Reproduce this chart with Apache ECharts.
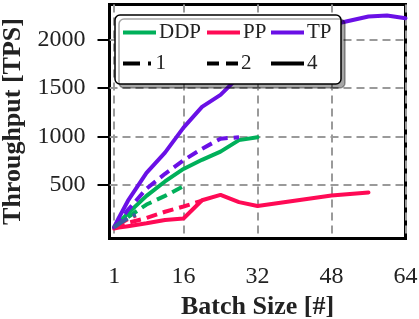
<!DOCTYPE html>
<html>
<head>
<meta charset="utf-8">
<script src="https://cdn.jsdelivr.net/npm/echarts@6/dist/echarts.min.js"></script>
<style>html,body{margin:0;padding:0;background:#fff;}#c{width:419px;height:319px;}</style>
</head>
<body>
<div id="c"></div>
<script>
// ---- data ----
const xTicks = [1, 16, 32, 48, 64];
const yTicks = [500, 1000, 1500, 2000];

const tp4  = [[1,55],[2,150],[4,330],[8,620],[12,830],[16,1090],[20,1305],[24,1430],[28,1620],[32,1820],[40,2050],[48,2160],[56,2245],[60,2255],[64,2228]];
const tp2  = [[1,55],[2,110],[4,235],[8,455],[12,610],[16,750],[20,870],[24,975],[28,990]];
const tp1  = [[1,55],[2,90],[4,150],[6,195]];
const ddp4 = [[1,55],[2,100],[4,200],[8,380],[12,530],[16,660],[20,755],[24,840],[28,960],[32,990]];
const ddp2 = [[1,55],[2,85],[4,160],[8,290],[12,380],[16,480]];
const ddp1 = [[1,55],[2,90],[4,150],[6,195]];
const pp4  = [[1,40],[2,50],[4,65],[8,95],[12,130],[16,145],[20,335],[24,390],[28,315],[32,275],[40,330],[48,385],[56,415]];
const pp2  = [[1,50],[2,65],[4,100],[8,150],[12,215],[16,270],[20,330]];
const pp1  = [[1,50],[2,85],[4,140],[6,185]];

const FONT = 'Liberation Serif';
const GREEN = '#00b05a', RED = '#ff0a55', PURPLE = '#6a10e6';
const DASH2 = [11, 6], DASH1 = [16, 6, 3, 6];

const ICON_SOLID = 'path://M0,0H33V4H0Z';
const ICON_DASH = 'path://M0,0H12V4H0Z M19,0H31V4H19Z';
const ICON_DASHDOT = 'path://M0,0H17V4H0Z M25,0H28V4H25Z';

function ser(name, data, color, type, opacity, z) {
  return {
    name: name, type: 'line', data: data, symbol: 'none', z: z || 2,
    lineStyle: { color: color, width: 4, type: type, cap: type === 'solid' ? 'round' : 'butt', opacity: opacity == null ? 1 : opacity },
    itemStyle: { color: color },
    emphasis: { disabled: true }, animation: false
  };
}
function dummy(name, color) {
  return { name: name, type: 'line', data: [], symbol: 'none',
    lineStyle: { color: color, width: 4 }, itemStyle: { color: color } };
}
function leg(name, left, top, w, icon) {
  return { data: [{ name: name, icon: icon }], left: left, top: top, padding: 0,
    itemWidth: w, itemHeight: 4, selectedMode: false,
    itemStyle: { borderWidth: 0 },
    textStyle: { fontFamily: FONT, fontSize: 21, color: '#222', padding: [0,0,0,-2] } };
}

const chart = echarts.init(document.getElementById('c'), null, { renderer: 'canvas' });
chart.setOption({
  animation: false,
  grid: { left: 109.5, top: 4.5, width: 296, height: 234, show: true, containLabel: false,
          outerBoundsMode: 'none',
          borderColor: '#000', borderWidth: 3, backgroundColor: 'transparent' },
  xAxis: {
    type: 'value', min: 0, max: 64,
    name: 'Batch Size [#]', nameLocation: 'middle', nameGap: 56,
    nameTextStyle: { fontFamily: FONT, fontSize: 26, fontWeight: 'bold', color: '#222' },
    axisLine: { show: false },
    axisTick: { show: false, customValues: xTicks },
    axisLabel: { customValues: xTicks, margin: 26, fontFamily: FONT, fontSize: 24, color: '#222',
                 formatter: function (v) { return String(v); } },
    splitLine: { show: true, lineStyle: { color: '#9a9a9a', width: 2, type: [8, 5] } }
  },
  yAxis: {
    type: 'value', min: -63, max: 2370,
    name: 'Throughput [TPS]', nameLocation: 'middle', nameGap: 80,
    nameTextStyle: { fontFamily: FONT, fontSize: 26, fontWeight: 'bold', color: '#222' },
    axisLine: { show: false },
    axisTick: { show: true, inside: false, length: 12, customValues: yTicks, lineStyle: { color: '#000', width: 2 } },
    axisLabel: { customValues: yTicks, margin: 24, fontFamily: FONT, fontSize: 24, color: '#222',
                 formatter: function (v) { return String(v); } },
    splitLine: { show: true, lineStyle: { color: '#9a9a9a', width: 2, type: [8, 5] } }
  },
  legend: [
    leg('DDP', 123, 22, 33, ICON_SOLID), leg('PP', 207, 22, 33, ICON_SOLID), leg('TP', 271, 22, 33, ICON_SOLID),
    leg('1', 123, 53, 31, ICON_DASHDOT), leg('2', 207, 53, 31, ICON_DASH), leg('4', 271, 53, 33, ICON_SOLID)
  ],
  graphic: [{
    type: 'rect', z: 3,
    shape: { x: 115, y: 15, width: 226, height: 69, r: 5 },
    style: { fill: '#fff', stroke: '#000', lineWidth: 1.5,
             shadowColor: 'rgba(0,0,0,0.35)', shadowOffsetX: 4, shadowOffsetY: 4, shadowBlur: 0 }
  }],
  series: [
    ser('PP-4', pp4, RED, 'solid'),
    ser('PP-2', pp2, RED, DASH2),
    ser('DDP-4', ddp4, GREEN, 'solid'),
    ser('DDP-2', ddp2, GREEN, DASH2),
    ser('TP-4', tp4, PURPLE, 'solid'),
    ser('TP-2', tp2, PURPLE, DASH2),
    ser('PP-1', pp1, RED, DASH1),
    ser('DDP-1', ddp1, GREEN, DASH1),
    ser('TP-1', tp1, PURPLE, DASH1, 0.5),
    dummy('DDP', GREEN), dummy('PP', RED), dummy('TP', PURPLE),
    dummy('1', '#000'), dummy('2', '#000'), dummy('4', '#000')
  ]
});
</script>
</body>
</html>
